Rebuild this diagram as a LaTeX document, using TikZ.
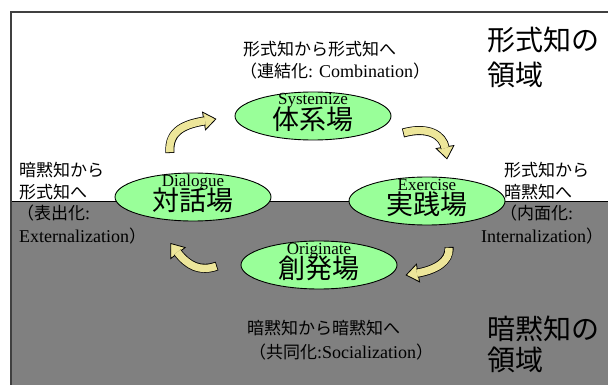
\documentclass[tikz,border=0pt]{standalone}
\usepackage{fontspec}
\setmainfont{Liberation Serif}
\newfontfamily\jp{Noto Sans CJK JP}
\usetikzlibrary{calc,shapes.geometric}
\definecolor{areagray}{HTML}{808080}
\definecolor{bafill}{HTML}{99FF99}
\definecolor{arrowfill}{HTML}{EDE69A}
\definecolor{framegray}{HTML}{404040}
\tikzset{
  ba/.style={ellipse, draw=black, line width=0.9pt, fill=bafill, minimum width=156pt, minimum height=48pt, inner sep=0pt},
  batitle/.style={inner sep=0pt, anchor=base, font=\rmfamily\fontsize{17}{17}\selectfont},
  baname/.style={inner sep=0pt, font=\jp\fontsize{27}{27}\selectfont},
  lbl/.style={inner sep=0pt, anchor=west, font=\jp\fontsize{17}{20}\selectfont},
  region/.style={inner sep=0pt, anchor=west, font=\jp\fontsize{28}{28}\selectfont},
}
\newcommand\lat[1]{{\rmfamily\fontsize{18}{20}\selectfont #1}}
\newcommand\myblockarrow[4]{%
  \filldraw[fill=arrowfill, draw=black, line width=0.8pt, line join=miter]
    ($(#4)!-12pt!(#3)$) -- ($(#4)!9pt!90:(#3)$) -- ($(#4)!9pt!-90:(#3)$) -- cycle;
  \draw[line width=9pt, black] (#1) .. controls (#2) and (#3) .. ($(#4)!-1pt!(#3)$);
  \draw[line width=7.4pt, arrowfill, shorten <=0.8pt] (#1) .. controls (#2) and (#3) .. ($(#4)!-1.2pt!(#3)$);
}
\begin{document}
\begin{tikzpicture}[x=1pt, y=-1pt]
\useasboundingbox (0,0) rectangle (608,385);
\fill[white] (0,0) rectangle (608,385);
% tacit region
\filldraw[fill=areagray, draw=black, line width=0.8pt] (11,201) rectangle (615,392);
% frame
\draw[framegray, line width=1.4pt] (11,392) -- (11,12) -- (615,12);

% ba ellipses
\node[ba] (sys) at (313,116) {};
\node[batitle] (sysen) at ($(sys.center)+(0,-11)$) {Systemize};
\node[baname] (sysjp) at ($(sys.center)+(0,3)$) {体系場};

\node[ba] (dia) at (193,197) {};
\node[batitle] (diaen) at ($(dia.center)+(0,-11)$) {Dialogue};
\node[baname] (diajp) at ($(dia.center)+(0,3)$) {対話場};

\node[ba] (exe) at (427,201) {};
\node[batitle] (exeen) at ($(exe.center)+(0,-11)$) {Exercise};
\node[baname] (exejp) at ($(exe.center)+(0,3)$) {実践場};

\node[ba] (ori) at (319,265) {};
\node[batitle] (orien) at ($(ori.center)+(0,-11)$) {Originate};
\node[baname] (orijp) at ($(ori.center)+(0,3)$) {創発場};

% curved arrows
\coordinate (a1s) at (170,153); \coordinate (a1c) at (168,130); \coordinate (a1d) at (186,124); \coordinate (a1b) at (204,121);
\myblockarrow{a1s}{a1c}{a1d}{a1b}
\coordinate (a2s) at (403,133); \coordinate (a2c) at (428,126); \coordinate (a2d) at (443,135); \coordinate (a2b) at (445,147);
\myblockarrow{a2s}{a2c}{a2d}{a2b}
\coordinate (a3s) at (217,266); \coordinate (a3c) at (200,272); \coordinate (a3d) at (188,266); \coordinate (a3b) at (178,253);
\myblockarrow{a3s}{a3c}{a3d}{a3b}
\coordinate (a4s) at (449,247); \coordinate (a4c) at (450,262); \coordinate (a4d) at (435,270); \coordinate (a4b) at (418,273);
\myblockarrow{a4s}{a4c}{a4d}{a4b}

% top label
\node[lbl] (t1) at (243,49) {形式知から形式知へ};
\node[lbl] (t2) at (240,71) {（連結化\lat{: Combination}）};
% left label
\node[lbl] (l1) at (19,170) {暗黙知から};
\node[lbl] (l2) at (19,192) {形式知へ};
\node[lbl] (l3) at (17,213) {（表出化\lat{:}};
\node[lbl] (l4) at (19,236) {\lat{Externalization}）};
% right label
\node[lbl] (r1) at (504,170) {形式知から};
\node[lbl] (r2) at (504,192) {暗黙知へ};
\node[lbl] (r3) at (500,213) {（内面化\lat{:}};
\node[lbl] (r4) at (481,236) {\lat{Internalization}）};
% bottom label
\node[lbl] (b1) at (247,328) {暗黙知から暗黙知へ};
\node[lbl] (b2) at (249,352) {（共同化\lat{:Socialization}）};
% region labels
\node[region] (g1) at (487,40) {形式知の};
\node[region] (g2) at (487,75) {領域};
\node[region] (g3) at (487,329) {暗黙知の};
\node[region] (g4) at (487,360) {領域};
\end{tikzpicture}
\end{document}
